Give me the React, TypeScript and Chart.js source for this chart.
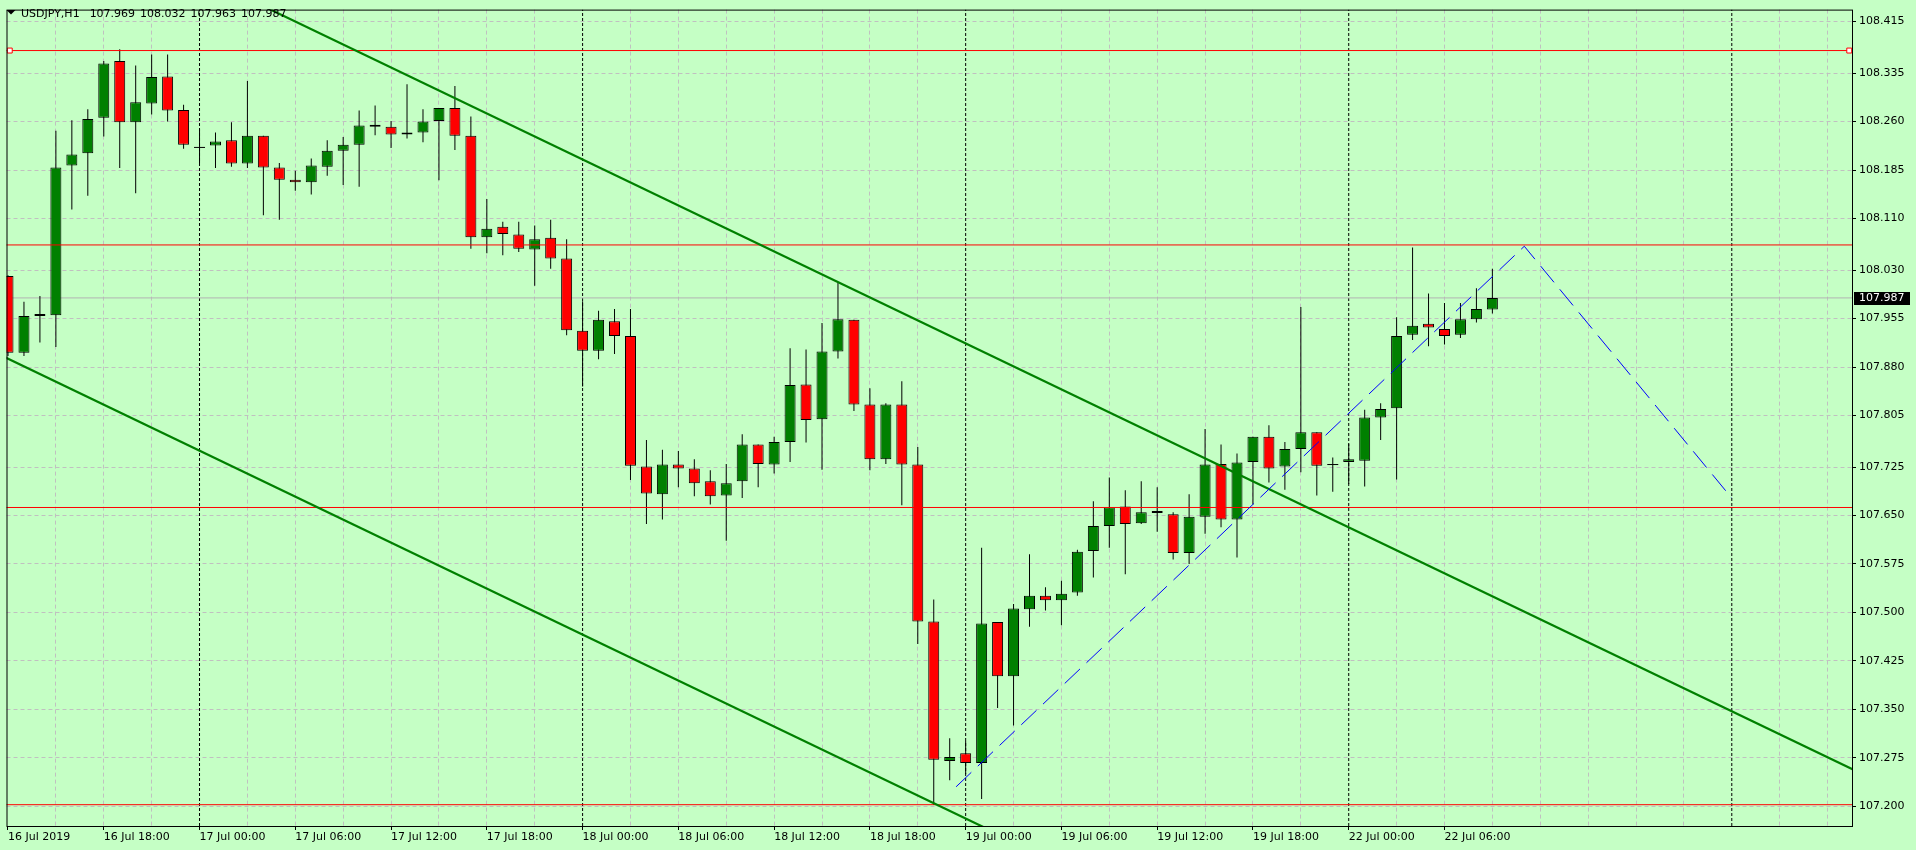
import React, { useEffect, useRef } from 'react';
import { Chart, registerables } from 'chart.js';

Chart.register(...registerables);

// ---------- data ----------
const symbol = 'USDJPY,H1';

const opens = [
  108.021, 107.902, 107.959, 107.960, 108.192, 108.211, 108.266, 108.354, 108.259, 108.288,
  108.330, 108.278, 108.220, 108.223, 108.231, 108.195, 108.238, 108.189, 108.170, 108.166,
  108.190, 108.215, 108.224, 108.255, 108.252, 108.240, 108.243, 108.261, 108.281, 108.238,
  108.081, 108.097, 108.085, 108.062, 108.080, 108.048, 107.936, 107.905, 107.951, 107.928,
  107.726, 107.683, 107.729, 107.723, 107.703, 107.681, 107.703, 107.760, 107.729, 107.764,
  107.853, 107.799, 107.904, 107.953, 107.822, 107.737, 107.822, 107.729, 107.486, 107.270,
  107.282, 107.267, 107.485, 107.401, 107.505, 107.526, 107.519, 107.531, 107.595, 107.634,
  107.664, 107.638, 107.657, 107.652, 107.592, 107.648, 107.730, 107.644, 107.733, 107.772,
  107.726, 107.753, 107.779, 107.729, 107.733, 107.735, 107.802, 107.816, 107.930, 107.947,
  107.939, 107.930, 107.954, 107.969,
];
const highs = [
  108.022, 107.981, 107.990, 108.246, 108.262, 108.279, 108.354, 108.372, 108.347, 108.364,
  108.364, 108.286, 108.249, 108.243, 108.259, 108.323, 108.238, 108.196, 108.184, 108.203,
  108.231, 108.236, 108.277, 108.285, 108.261, 108.318, 108.279, 108.281, 108.315, 108.268,
  108.140, 108.105, 108.105, 108.099, 108.108, 108.078, 107.982, 107.967, 107.970, 107.970,
  107.767, 107.752, 107.750, 107.737, 107.720, 107.730, 107.776, 107.760, 107.772, 107.909,
  107.907, 107.948, 108.010, 107.953, 107.847, 107.824, 107.858, 107.756, 107.520, 107.305,
  107.301, 107.600, 107.485, 107.513, 107.590, 107.539, 107.549, 107.597, 107.672, 107.709,
  107.689, 107.703, 107.694, 107.655, 107.683, 107.784, 107.760, 107.746, 107.772, 107.790,
  107.764, 107.973, 107.779, 107.740, 107.761, 107.814, 107.824, 107.957, 108.065, 107.994,
  107.979, 107.979, 108.002, 108.032,
];
const lows = [
  107.897, 107.897, 107.918, 107.911, 108.124, 108.145, 108.237, 108.188, 108.149, 108.271,
  108.260, 108.218, 108.196, 108.188, 108.190, 108.188, 108.115, 108.108, 108.153, 108.147,
  108.176, 108.162, 108.159, 108.239, 108.219, 108.234, 108.228, 108.169, 108.216, 108.063,
  108.056, 108.053, 108.058, 108.006, 108.032, 107.929, 107.850, 107.892, 107.900, 107.705,
  107.637, 107.644, 107.694, 107.680, 107.667, 107.611, 107.677, 107.694, 107.715, 107.733,
  107.763, 107.721, 107.893, 107.812, 107.720, 107.730, 107.666, 107.451, 107.202, 107.240,
  107.250, 107.211, 107.352, 107.325, 107.478, 107.503, 107.480, 107.526, 107.554, 107.600,
  107.559, 107.637, 107.625, 107.582, 107.575, 107.622, 107.632, 107.585, 107.667, 107.701,
  107.690, 107.717, 107.681, 107.687, 107.699, 107.695, 107.767, 107.706, 107.922, 107.912,
  107.915, 107.925, 107.949, 107.963,
];
const closes = [
  107.902, 107.959, 107.962, 108.189, 108.209, 108.264, 108.350, 108.259, 108.290, 108.329,
  108.277, 108.224, 108.220, 108.229, 108.195, 108.238, 108.189, 108.170, 108.166, 108.192,
  108.215, 108.224, 108.254, 108.252, 108.240, 108.243, 108.260, 108.281, 108.238, 108.081,
  108.094, 108.086, 108.063, 108.078, 108.048, 107.937, 107.905, 107.953, 107.928, 107.727,
  107.684, 107.729, 107.723, 107.700, 107.680, 107.700, 107.760, 107.730, 107.764, 107.852,
  107.798, 107.904, 107.954, 107.822, 107.737, 107.822, 107.729, 107.486, 107.272, 107.276,
  107.267, 107.483, 107.401, 107.506, 107.526, 107.519, 107.529, 107.594, 107.634, 107.663,
  107.637, 107.655, 107.654, 107.592, 107.648, 107.729, 107.644, 107.732, 107.772, 107.723,
  107.753, 107.779, 107.727, 107.729, 107.737, 107.802, 107.815, 107.928, 107.944, 107.941,
  107.928, 107.954, 107.970, 107.987,
];

const labelBars = [0, 6, 12, 18, 24, 30, 36, 42, 48, 54, 60, 66, 72, 78, 84, 90];
const labelTexts = [
  '16 Jul 2019', '16 Jul 18:00', '17 Jul 00:00', '17 Jul 06:00', '17 Jul 12:00', '17 Jul 18:00',
  '18 Jul 00:00', '18 Jul 06:00', '18 Jul 12:00', '18 Jul 18:00', '19 Jul 00:00', '19 Jul 06:00',
  '19 Jul 12:00', '19 Jul 18:00', '22 Jul 00:00', '22 Jul 06:00',
];
const separatorBars = [12, 36, 60, 84, 108];

const yTicks = [
  107.200, 107.275, 107.350, 107.425, 107.500, 107.575, 107.650, 107.725, 107.805,
  107.880, 107.955, 108.030, 108.110, 108.185, 108.260, 108.335, 108.415,
];

const levels = [108.370, 108.069, 107.6625, 107.2023];
const handleBars = [0.11, 115.36];
const upperChannel = [{ x: -0.5, y: 108.6345 }, { x: 116, y: 107.2519 }];
const lowerChannel = [{ x: -0.5, y: 107.8989 }, { x: 116, y: 106.5163 }];
const zigzag = [{ x: 59.4, y: 107.230 }, { x: 95, y: 108.067 }, { x: 108, y: 107.677 }];
const bid = 107.987;

// ---------- axis ranges ----------
const X_MIN = -0.09375;
const X_MAX = 115.53125;
const Y_MIN = 107.16932;
const Y_MAX = 108.43341;

const BG = 'rgb(197,255,197)';
const GRID = '#c0c0c0';
const FONT = 'DejaVu Sans';

export default function App() {
  const ref = useRef<HTMLCanvasElement | null>(null);

  useEffect(() => {
    document.body.style.margin = '0';
    document.body.style.background = BG;
    const canvas = ref.current;
    if (!canvas) return;

    const n = opens.length;
    const wicks: any[] = [];
    const bull: any[] = [];
    const bear: any[] = [];
    const doji: any[] = [];
    for (let i = 0; i < n; i++) {
      wicks.push({ x: i, y: [lows[i], highs[i]] });
      if (closes[i] > opens[i]) bull.push({ x: i, y: [opens[i], closes[i]] });
      else if (closes[i] < opens[i]) bear.push({ x: i, y: [closes[i], opens[i]] });
      else doji.push({ x: i, y: closes[i] });
    }

    const gridBars: number[] = [];
    for (let b = 0; b <= 114; b += 3) gridBars.push(b);

    const lineBase = {
      type: 'line' as const,
      pointRadius: 0,
      tension: 0,
      fill: false,
      clip: 0,
    };

    const bodyBase = {
      type: 'bar' as const,
      grouped: false,
      barThickness: 11,
      maxBarThickness: 11,
      borderWidth: 1,
      borderColor: '#000000',
      borderSkipped: false,
      inflateAmount: 0,
      clip: 0,
    };

    const datasets: any[] = [
      {
        ...lineBase,
        showLine: false,
        data: handleBars.map((x) => ({ x, y: levels[0] })),
        pointRadius: 3.5,
        pointStyle: 'rect',
        pointBackgroundColor: '#ffffff',
        pointBorderColor: '#ff0000',
        pointBorderWidth: 1,
      },
      { ...lineBase, data: zigzag, borderColor: '#0000ff', borderWidth: 1, borderDash: [21, 9] },
      { ...lineBase, data: upperChannel, borderColor: '#008000', borderWidth: 2.2 },
      { ...lineBase, data: lowerChannel, borderColor: '#008000', borderWidth: 2.2 },
      ...levels.map((lv) => ({
        ...lineBase,
        data: [{ x: X_MIN - 1, y: lv }, { x: X_MAX + 1, y: lv }],
        borderColor: '#ff0000',
        borderWidth: 1,
      })),
      {
        ...lineBase,
        showLine: false,
        data: doji,
        pointRadius: 5.5,
        pointStyle: 'line',
        pointBorderColor: '#000000',
        pointBorderWidth: 1,
      },
      { ...bodyBase, data: bull, backgroundColor: '#008000' },
      { ...bodyBase, data: bear, backgroundColor: '#ff0000' },
      {
        type: 'bar',
        grouped: false,
        barThickness: 1,
        maxBarThickness: 1,
        borderWidth: 0,
        inflateAmount: 0,
        backgroundColor: '#000000',
        data: wicks,
        clip: 0,
      },
      {
        ...lineBase,
        data: [{ x: X_MIN - 1, y: bid }, { x: X_MAX + 1, y: bid }],
        borderColor: '#b4b4b4',
        borderWidth: 1,
      },
      ...separatorBars.map((b) => ({
        ...lineBase,
        data: [{ x: b, y: Y_MIN }, { x: b, y: Y_MAX }],
        borderColor: '#000000',
        borderWidth: 1,
        borderDash: [3, 2],
      })),
    ];

    const overlay = {
      id: 'overlay',
      beforeDraw(chart: any) {
        const ctx = chart.ctx;
        ctx.save();
        ctx.fillStyle = BG;
        ctx.fillRect(0, 0, chart.width, chart.height);
        ctx.restore();
      },
      afterDatasetsDraw(chart: any) {
        const { ctx, chartArea: a } = chart;
        ctx.save();
        ctx.strokeStyle = '#000000';
        ctx.lineWidth = 1;
        ctx.setLineDash([]);
        ctx.strokeRect(a.left + 0.5, a.top + 0.5, a.right - a.left, a.bottom - a.top);
        ctx.restore();
      },
      afterDraw(chart: any) {
        const { ctx } = chart;
        const ys = chart.scales.y;
        const last = n - 1;
        ctx.save();
        // bid price box
        const py = ys.getPixelForValue(bid);
        ctx.fillStyle = '#000000';
        ctx.fillRect(ys.left + 2, Math.round(py) - 6, 56, 13);
        ctx.fillStyle = '#ffffff';
        ctx.font = `11px "${FONT}"`;
        ctx.textBaseline = 'middle';
        ctx.textAlign = 'left';
        ctx.fillText(bid.toFixed(3), ys.left + 7, Math.round(py) + 0.5);
        // title
        ctx.fillStyle = '#000000';
        ctx.beginPath();
        ctx.moveTo(6.5, 10);
        ctx.lineTo(15.5, 10);
        ctx.lineTo(11, 14.5);
        ctx.closePath();
        ctx.fill();
        ctx.textBaseline = 'alphabetic';
        ctx.font = `11px "${FONT}"`;
        const parts = [
          symbol,
          opens[last].toFixed(3),
          highs[last].toFixed(3),
          lows[last].toFixed(3),
          closes[last].toFixed(3),
        ];
        let x = 21;
        parts.forEach((p, i) => {
          ctx.fillText(p, x, 17);
          x += ctx.measureText(p).width + (i === 0 ? 10 : 5);
        });
        ctx.restore();
      },
    };

    const chart = new Chart(canvas, {
      type: 'bar',
      data: { datasets },
      options: {
        animation: false,
        responsive: false,
        maintainAspectRatio: false,
        devicePixelRatio: 1,
        events: [],
        layout: { padding: { left: 2, top: 2, right: 0, bottom: 0 } },
        plugins: {
          legend: { display: false },
          tooltip: { enabled: false },
          title: { display: false },
        },
        scales: {
          x: {
            type: 'linear',
            position: 'bottom',
            min: X_MIN,
            max: X_MAX,
            offset: false,
            afterBuildTicks: (s: any) => {
              s.ticks = gridBars.map((v) => ({ value: v }));
            },
            afterFit: (s: any) => {
              s.height = 24;
            },
            ticks: {
              autoSkip: false,
              maxRotation: 0,
              minRotation: 0,
              align: 'start',
              padding: 1,
              color: '#000000',
              font: { family: FONT, size: 11 },
              callback: (v: any) => {
                const k = labelBars.indexOf(Number(v));
                return k >= 0 ? labelTexts[k] : '';
              },
            },
            grid: {
              offset: false,
              lineWidth: 1,
              tickLength: 4,
              tickWidth: 1,
              tickBorderDash: [],
              color: (c: any) => {
                const v = c.tick ? c.tick.value : -1;
                return separatorBars.includes(v) || v === 0 ? 'rgba(0,0,0,0)' : GRID;
              },
              tickColor: (c: any) => {
                const v = c.tick ? c.tick.value : -1;
                return labelBars.includes(v) ? '#000000' : 'rgba(0,0,0,0)';
              },
            },
            border: { display: false, dash: [4, 3] },
          } as any,
          y: {
            type: 'linear',
            position: 'right',
            min: Y_MIN,
            max: Y_MAX,
            beginAtZero: false,
            afterBuildTicks: (s: any) => {
              s.ticks = yTicks.map((v) => ({ value: v }));
            },
            afterFit: (s: any) => {
              s.width = 64;
            },
            ticks: {
              padding: 3,
              color: '#000000',
              font: { family: FONT, size: 11 },
              callback: (v: any) => Number(v).toFixed(3),
            },
            grid: {
              lineWidth: 1,
              tickLength: 4,
              tickWidth: 1,
              tickBorderDash: [],
              color: GRID,
              tickColor: '#000000',
            },
            border: { display: false, dash: [4, 3] },
          } as any,
        },
      } as any,
      plugins: [overlay],
    });

    return () => {
      chart.destroy();
    };
  }, []);

  return (
    <div style={{ width: 1916, height: 850, background: BG }}>
      <canvas ref={ref} width={1916} height={850} style={{ display: 'block' }} />
    </div>
  );
}
